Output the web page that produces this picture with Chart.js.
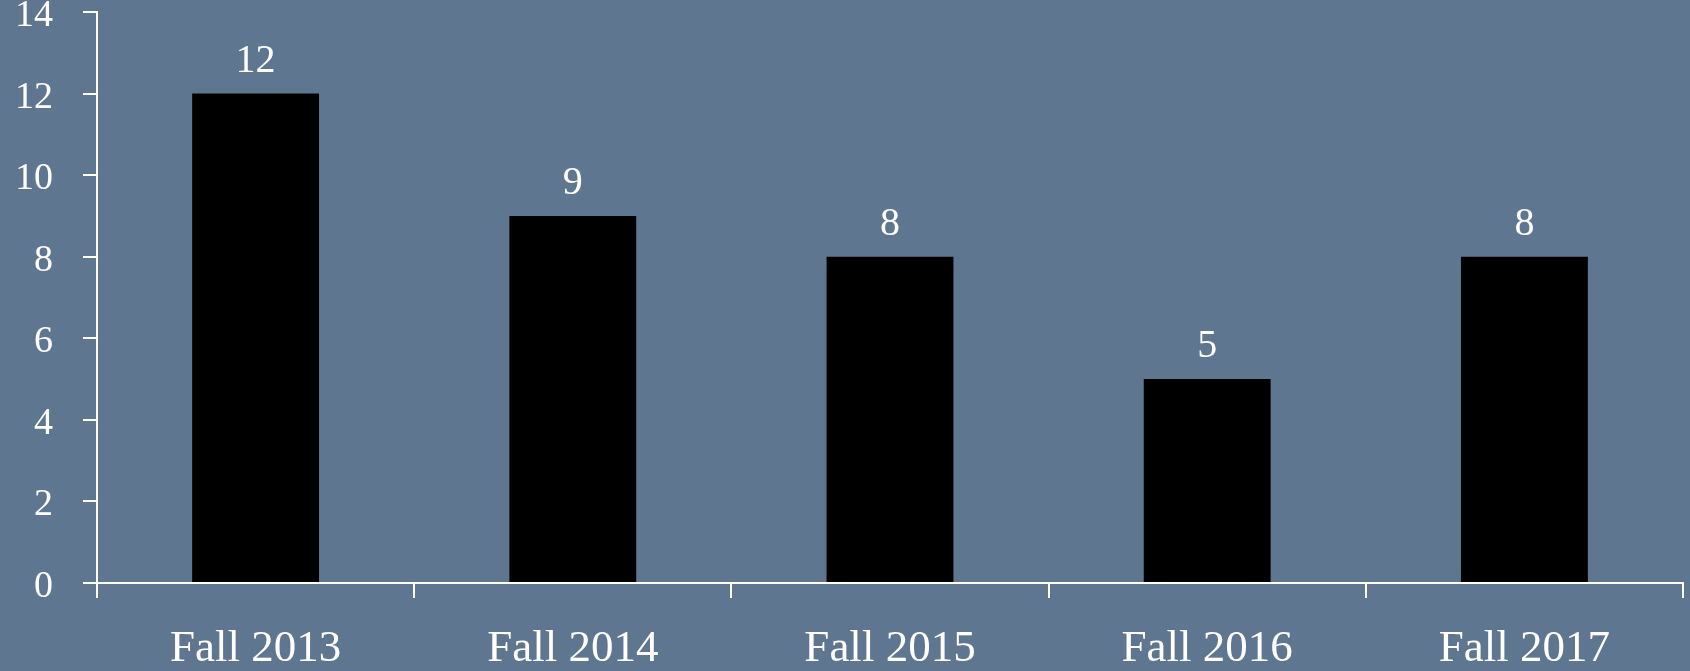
<!DOCTYPE html>
<html>
<head>
<meta charset="utf-8">
<script src="https://cdn.jsdelivr.net/npm/chart.js@4/dist/chart.umd.min.js"></script>
<style>
  html, body { margin: 0; padding: 0; }
  body { width: 1690px; height: 671px; background: #5f7690; overflow: hidden; }
  #wrap { width: 1690px; height: 671px; position: relative; }
</style>
</head>
<body>
<div id="wrap"><canvas id="chart"></canvas></div>
<script>
const categories = ['Fall 2013', 'Fall 2014', 'Fall 2015', 'Fall 2016', 'Fall 2017'];
const counts = [12, 9, 8, 5, 8];
const yTicks = [0, 2, 4, 6, 8, 10, 12, 14];

const fontFamily = '"Liberation Serif", "DejaVu Serif", serif';

// value labels above each bar
const barLabels = {
    id: 'barLabels',
    afterDatasetsDraw(chart) {
        const ctx = chart.ctx;
        const meta = chart.getDatasetMeta(0);
        ctx.save();
        ctx.fillStyle = '#ffffff';
        ctx.font = '40px ' + fontFamily;
        ctx.textAlign = 'center';
        ctx.textBaseline = 'alphabetic';
        meta.data.forEach((bar, i) => {
            ctx.fillText(String(counts[i]), bar.x, bar.y - 22);
        });
        ctx.restore();
    }
};

const ctx = document.getElementById('chart');
new Chart(ctx, {
    type: 'bar',
    data: {
        labels: categories,
        datasets: [{
            data: counts,
            backgroundColor: '#000000',
            borderWidth: 0,
            barPercentage: 0.4,
            categoryPercentage: 1.0
        }]
    },
    options: {
        responsive: true,
        maintainAspectRatio: false,
        animation: false,
        layout: { padding: { top: 12, right: 7, left: 0, bottom: 0 } },
        plugins: {
            legend: { display: false },
            tooltip: { enabled: false }
        },
        scales: {
            x: {
                grid: {
                    drawOnChartArea: false,
                    drawTicks: true,
                    tickLength: 15,
                    color: '#ffffff',
                    lineWidth: 2
                },
                border: { color: '#ffffff', width: 2 },
                ticks: {
                    color: '#ffffff',
                    font: { family: fontFamily, size: 45 },
                    padding: 24,
                    maxRotation: 0
                },
                afterFit(scale) {
                    scale.height = 88;
                    scale.paddingLeft = 0;
                    scale.paddingRight = 0;
                }
            },
            y: {
                min: 0,
                max: 14,
                afterBuildTicks(scale) {
                    scale.ticks = yTicks.map(v => ({ value: v }));
                },
                grid: {
                    drawOnChartArea: false,
                    drawTicks: true,
                    tickLength: 14,
                    color: '#ffffff',
                    lineWidth: 2
                },
                border: { color: '#ffffff', width: 2 },
                ticks: {
                    color: '#ffffff',
                    font: { family: fontFamily, size: 38 },
                    padding: 30,
                    labelOffset: 4
                },
                afterFit(scale) {
                    scale.width = 97;
                    scale.paddingTop = 0;
                    scale.paddingBottom = 0;
                }
            }
        }
    },
    plugins: [barLabels]
});
</script>
</body>
</html>
